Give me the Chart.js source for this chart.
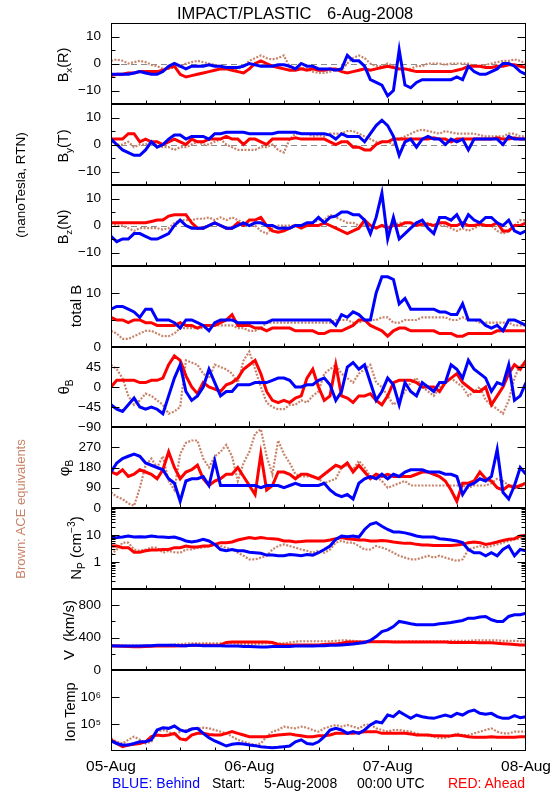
<!DOCTYPE html>
<html><head><meta charset="utf-8">
<script src="https://cdn.jsdelivr.net/npm/chart.js@4.4.1/dist/chart.umd.min.js"></script>
<style>
html,body{margin:0;padding:0;background:#fff;}
#wrap{position:relative;width:550px;height:800px;overflow:hidden;font-family:"Liberation Sans",Arial,sans-serif;color:#000;}
#wrap canvas{position:absolute;left:0;top:0;}
.t{position:absolute;white-space:pre;line-height:1;}
.rot{position:absolute;white-space:pre;line-height:1;transform:translate(-50%,-50%) rotate(-90deg);font-size:14.5px;}
sub,sup{font-size:68%;line-height:0;}
</style></head>
<body><div id="wrap"></div>
<script>
// ---------- DATA (hourly samples, hours after 05-Aug-2008 00:00 UTC) ----------
const hours = Array.from({length:73},(_,i)=>i);
const xTickHours = [0,24,48,72];
const xTickLabels = ['05-Aug','06-Aug','07-Aug','08-Aug'];

const bxBlue=[-4,-4,-4,-4,-3.5,-3,-3.5,-4,-4,-3,-1,0,-1,-2,-1,-1,-1,-0.5,-1,-1,-1.5,-1.5,-1.5,-1,0,-0.5,-1,-1,-1,-0.5,-0.5,-1,-2,0,-1,-1,-2,-2,-2,-2.5,-2,3,1,1,-1,-6,-7,-8,-12,-10,5,-8,-9,-7,-6,-6,-6,-6,-6,-6,-5,-6,-1,-3,-4,-4,-3,-2,0,0,-1,-3,-4];
const bxRed=[-4.5,-4,-4,-3.5,-3.5,-3,-3,-3,-3,-2.5,-1.5,-1,-4,-5,-4.5,-4,-3.5,-3,-2.5,-2,-2,-2.5,-3,-3.5,-2,0,1,0,-1,-1.5,-2,-2.5,-2.5,-2,-2.5,-2,-2.5,-2.5,-2,-2,-3,-3.5,-3,-2.5,-2,-2.5,-2,-1.5,-1,-1.5,-2,-2,-2.5,-3,-3,-3,-3,-3,-3,-3,-2.5,-2,-1,-1,-1,-1.5,-1.5,-1,-1,-0.5,-0.5,-1,-1.5];
const bxBrown=[1,1.5,1,0,0.5,1,0.5,-0.5,-1,-2,-2,-1.5,-1,0,0.5,1,0.5,0,-0.5,-1,-2,-2,-2,-1,1,2,3,2,1.5,2,3,-1.5,-2,-1.5,-2,-3,-3.5,-3.5,-3,-2.5,-2.5,0,2,3,2,0,-1,-1,0,-1,-2,-2,-2,-1,-1,0,0,0,-0.5,0,0,0,0,-1,-1,-0.5,0,0.5,1,1,1.5,1,0];

const byBlue=[2,0,-2,-3,-4,-4,-2,1,-1,0,2,3.5,3.5,2,3,3,3,2,4,4,4.5,4.5,4.5,4.5,4,4,4,4,4,4.5,4.5,4.5,4.5,4,4,4,4,4,3.5,2,4,3,3,3,1,4,7,9,7,3,-4,1,2,-1,2,3,2,2,0,2,1,2,-2,2,2,2,2,2,0,3,2,2,2];
const byRed=[2,2,2,4,4,1,2,1,1,0,1,2,1,0,2,1,1,2,2,2,3,2,2,0,2,2,1,0,2,2,2,2,2.5,2,2,2,2,2,1,0,1,1,-1,-1,-2,-2,0,1,1,2,2,2,2,2,2,2,2.5,2,2,1,2,2,2,2,2,2,2,2.5,2,2,2.5,2,2];
const byBrown=[1,0,0,1,-1,0,0,1,-0.5,-1,-1,-2,-1,-1,0,1,0,0,1,2,0,-1,-2,-2,-2,-2,-1,-1,0,-2,-3,2,4,4,4,3,3.5,3,4,4,4,5,5,4,3,2,1,1,1,0,2,3,4,5,5.5,5,4.5,4,5,4.5,4,4,4,4,3.5,3,3,3,3,4,4,3,3];

const bzBlue=[-4,-6,-5,-5,-3,-3,-4,-5,-5,-4,-3,0,2,0,-1,-1,-1,0,1,0,-1,-1,0,1,0,1,1,0,0,-1,-1,-1,0,0,1,1,3,1,3,3.5,5,5,4,4,2,-3,3,12,-5,3,-5,-3,-1,1,2,-1,-3,3,3,2,4,0,4,2,1,3,3,1,0,2,-2,-3,-2];
const bzRed=[1,1,1,1,1,1,1,1.5,2,2,3.5,4,4,4,1,-1,-1,0,1,0,-1,-1,1,0,2,2,3,0,-2,-2.5,-2,-1,0,-1,0,0,0,1,0,-1,-2,-3,-2,-1,2,0,-1,0,-1,0,0,1,1,0,0.5,0.5,0,1,1,0,0,1,0,0,0.5,0,0,1,-2,-2,0,0,1];
const bzBrown=[1,0,0,-1,-2,-1,-1,-1,-1,-1.5,-1,1,2,2,2,2.5,2.5,3,2,3,2,3,2,1,0,0,-2,-3,-1,0,0,0,0,0,0,1,2,2,4,3,2,1,1,0,0,0,-1,0,0,0,1,1,1,0,0,1,0,0,0,-1,-2,-1,-2,-1,0,0,0,-2,-3,-2,0,2,2];

const btBlue=[7,7.5,7.5,7,6.5,5.5,7,7,5,5,5,4.5,3.5,5,5,4.5,4,3,4.5,5,5,5,4.5,4.5,4.5,4.5,4.5,4.5,5,5,5,5,5,5,5,5,5,5,5,4,6,5.5,6.5,6,5,5,10,13,13,12.5,8,9,7,7,7,7,7,6.5,6.5,6,6,8,5,5,5,4,3.5,4,3,5,5,4.5,4];
const btRed=[5.5,5,5,4.5,5,5,4.5,4.5,4,4,4,4,4.5,4,4,3.5,4,4,4,4.5,5,6,4,4,4,3.5,3.5,3,3.5,3.5,3.5,3.5,3,3,3,3,2.5,2.5,3,3,3,3.5,4,5,5,4,3.5,3,2,3,3.5,3.5,3,3,3,3,3,2.5,2.5,2.5,2,2,2.5,2.5,2.5,2.5,2.5,3,3,3,3,3,3];
const btBrown=[3,2.5,1.5,1.5,2,2.5,3,3,2.5,2,2,2.5,3.5,3.5,3.5,3.5,3.5,4,4,4,4,4,3.5,3.5,3,3,3.5,4.5,4.5,4.5,4.5,4.5,4.5,4.5,4.5,4.5,4.5,4.5,4.5,5,5,5,4.5,4.5,5,5,5,5.5,5.5,4.5,4.5,5,5,5,5.5,5.5,5.5,5.5,5.5,5,5,5.5,5,5,4.5,4.5,4.5,4.5,4.5,4.5,4,4,4];

const thBlue=[-40,-50,-55,-40,-25,-45,-50,-45,-50,-60,-20,20,50,-10,-30,-20,0,40,10,-20,-10,-10,5,5,5,10,10,10,15,20,20,15,0,0,5,5,15,20,5,-30,-10,45,55,40,50,10,-30,-10,20,5,-40,10,-10,-20,10,0,-10,10,10,50,40,20,60,40,30,20,-10,10,5,50,-30,-20,10];
const thRed=[0,15,15,15,15,10,10,15,15,20,50,70,60,25,0,-15,10,0,-5,-10,5,10,20,40,50,60,30,-10,-30,-35,-30,-35,-25,-20,20,40,0,-30,-20,50,-20,-25,-35,-20,-20,-15,-30,-40,-20,10,15,15,15,10,0,0,0,-10,10,20,30,10,0,-10,-10,0,-40,-20,0,30,50,40,60];
const thBrown=[50,40,20,-20,-40,-30,-15,-20,-30,-40,-60,-55,-45,60,55,50,30,20,50,45,40,30,10,60,80,40,0,-35,-45,-50,-50,-40,-40,-30,-35,-20,-10,30,40,50,30,20,10,30,40,50,10,0,-20,-40,-30,-10,10,20,0,-10,-20,0,10,20,10,0,-20,-10,0,-30,-40,-50,-60,-30,20,50,45];

const phBlue=[160,200,220,230,240,230,200,190,180,170,130,110,30,120,130,130,140,100,210,100,100,100,100,100,100,100,90,100,100,100,90,100,110,100,100,100,100,110,80,60,50,60,40,110,130,140,130,150,130,150,140,160,170,170,170,160,160,160,150,150,140,60,100,110,130,120,140,260,70,40,100,180,150];
const phRed=[160,150,170,140,150,170,160,150,130,170,250,180,130,160,170,190,130,100,120,130,150,150,180,140,100,60,240,80,100,160,160,150,130,150,150,140,130,150,170,190,180,200,160,190,160,130,150,140,150,140,140,140,140,150,160,160,150,140,120,80,30,110,110,120,160,130,120,90,80,100,90,100,110];
const phBrown=[70,50,40,20,10,90,190,220,180,230,120,80,240,290,300,300,220,180,230,250,280,230,120,200,250,330,350,230,150,300,240,200,150,140,140,140,130,110,120,130,180,190,170,210,180,140,140,120,90,100,110,120,100,100,100,100,100,100,100,100,100,100,90,100,100,100,110,130,120,100,100,90,120];

const npBlue=[7.3,8.0,8.4,9.2,8.4,8.7,8.4,9.2,8.7,8.4,8.0,8.4,7.3,6.0,5.5,6.0,6.9,6.0,4.5,2.9,2.6,2.9,2.6,2.6,2.3,2.2,2.1,1.8,1.8,1.7,1.7,1.9,1.8,1.7,1.9,1.8,2.2,2.9,3.9,6.9,9.2,8.7,9.2,8.4,16,25,29,21,16,13,13,12,10.6,9.2,8.4,8.4,8.4,7.3,6.9,6.5,6.0,5.2,2.9,2.2,2.2,1.7,2.2,1.7,2.9,3.9,1.7,2.9,2.6];
const npRed=[3.9,3.9,3.4,3.4,2.3,2.3,2.6,2.8,2.8,2.9,2.9,3.4,3.4,3.9,3.6,3.6,3.9,3.9,4.5,5.2,5.2,5.5,6.5,7.3,8.0,7.5,8.0,7.5,7.3,6.9,6.0,6.0,5.5,5.7,6.0,6.0,6.0,6.0,6.5,7.3,8.0,7.3,6.9,6.5,6.5,6.0,6.0,6.3,6.0,5.5,5.2,4.9,4.9,4.5,4.3,4.3,4.1,4.1,4.1,4.1,4.3,4.5,5.2,5.5,5.2,4.5,4.9,5.5,6.3,6.9,7.3,9.2,9.7];
const npBrown=[1.9,2.9,5.2,5.2,2.9,2.6,2.9,3.4,3.4,2.2,2.6,2.3,2.2,2.9,2.9,3.4,3.4,3.9,4.5,3.9,3.4,2.9,2.2,1.7,1.25,1.25,1.45,1.7,2.9,3.9,4.5,3.9,3.4,2.9,2.6,2.2,2.6,2.2,2.9,5.2,6.0,5.2,5.2,3.9,2.9,2.9,3.9,3.4,2.9,2.2,1.7,1.45,1.25,1.25,1.45,1.7,1.45,1.7,1.45,1.25,1.1,1.25,2.9,3.4,3.9,3.4,3.9,4.5,5.2,6.0,6.9,7.3,8.0];

const vBlue=[300,295,295,295,295,295,300,300,305,305,305,305,300,300,305,305,300,300,300,300,295,295,295,290,290,288,285,285,290,290,290,290,295,295,295,295,300,300,305,305,310,315,320,330,340,364,413,475,496,537,600,587,570,558,558,558,558,570,578,587,600,612,640,640,653,661,620,600,600,661,682,682,702];
const vRed=[295,295,292,290,288,288,290,292,295,295,295,295,298,300,305,305,305,305,305,310,340,345,345,345,345,345,345,345,340,315,310,310,310,310,310,310,310,315,320,320,330,345,345,345,345,350,350,350,350,345,345,345,345,345,345,345,345,345,345,340,340,340,340,340,335,335,335,330,325,320,315,310,310];
const vBrown=[300,300,300,300,300,300,300,305,305,305,310,315,320,325,330,330,330,330,330,330,330,330,325,320,320,320,325,330,330,330,330,340,350,355,355,355,355,355,355,360,365,365,360,355,355,350,350,350,350,350,350,350,355,355,355,355,355,355,355,360,360,360,360,365,365,365,365,365,360,360,360,355,350];

const tBlue=[2.35e4,1.9e4,1.67e4,1.67e4,1.9e4,2.2e4,2.2e4,2.6e4,6.0e4,7.3e4,6.9e4,8.4e4,6.0e4,5.2e4,6.5e4,6.9e4,4.5e4,3.1e4,2.35e4,1.9e4,1.53e4,1.77e4,1.9e4,1.8e4,1.67e4,1.58e4,1.45e4,1.37e4,1.33e4,1.37e4,1.45e4,1.53e4,2.2e4,2.6e4,1.9e4,1.77e4,2.2e4,3.4e4,6.0e4,6.9e4,6.0e4,4.5e4,5.2e4,4.5e4,6.0e4,9.2e4,1.22e5,1.1e5,2.15e5,1.87e5,2.86e5,2.15e5,1.62e5,2.15e5,1.87e5,1.72e5,1.62e5,1.87e5,2.15e5,1.87e5,2.48e5,2.15e5,2.86e5,3.3e5,2.48e5,2.28e5,2.48e5,1.87e5,1.62e5,1.62e5,2.04e5,1.72e5,1.87e5];
const tRed=[2.6e4,1.9e4,1.45e4,1.67e4,1.77e4,1.9e4,2.2e4,3.4e4,3.9e4,3.7e4,3.9e4,4.5e4,2.8e4,2.6e4,3.9e4,4.5e4,4.5e4,4.1e4,3.9e4,3.9e4,4.5e4,5.2e4,4.5e4,3.9e4,3.4e4,3.4e4,3.4e4,3.4e4,3.7e4,3.9e4,4.1e4,4.3e4,3.9e4,3.7e4,3.4e4,3.4e4,3.7e4,3.7e4,3.9e4,4.5e4,4.5e4,4.5e4,4.5e4,4.8e4,5.2e4,5.2e4,5.2e4,4.5e4,4.5e4,4.5e4,4.5e4,4.5e4,4.3e4,3.9e4,3.9e4,3.9e4,3.7e4,3.7e4,3.6e4,3.7e4,3.9e4,3.7e4,3.4e4,3.2e4,3.2e4,3.2e4,3.4e4,3.2e4,3.2e4,3.2e4,3.2e4,3.4e4,3.4e4];
const tBrown=[2.95e4,2.2e4,1.9e4,2.6e4,3.4e4,2.6e4,1.9e4,2.2e4,5.2e4,6.0e4,5.2e4,3.9e4,5.2e4,6.0e4,6.9e4,6.9e4,7.3e4,6.9e4,6.0e4,5.2e4,4.5e4,3.4e4,2.6e4,2.2e4,1.9e4,1.67e4,1.9e4,3.4e4,5.2e4,6.0e4,8.0e4,7.3e4,6.9e4,8.0e4,7.3e4,6.0e4,5.2e4,6.9e4,8.0e4,9.2e4,8.0e4,9.2e4,8.0e4,6.9e4,9.2e4,9.7e4,6.9e4,6.0e4,5.2e4,6.0e4,6.0e4,5.5e4,5.2e4,4.5e4,3.9e4,3.7e4,3.4e4,2.95e4,3.1e4,3.4e4,4.5e4,3.9e4,3.9e4,4.5e4,5.2e4,6.0e4,6.9e4,5.2e4,4.5e4,4.5e4,5.2e4,5.2e4,5.2e4];

// ---------- LAYOUT / STYLE ----------
const FONT = '"Liberation Sans", Arial, sans-serif';
const BLUE='#0000ff', RED='#ff0000', BROWN='#c8836a';
const panelEdges=[23,104,185,266,347,427,508,589,670,751];
const plotLeft=111, plotRight=526;
const minus = v => (v<0 ? '\u2212'+(-v) : String(v));
const logMinor = (decs)=>decs.flatMap(d=>[2,3,4,5,6,7,8,9].map(k=>k*d));

const panels=[
 {s:[bxBlue,bxRed,bxBrown],type:'linear',min:-15,max:15,labels:[-10,0,10],major:[-10,0,10],minor:[-5,5],zero:true,fmt:minus},
 {s:[byBlue,byRed,byBrown],type:'linear',min:-15,max:15,labels:[-10,0,10],major:[-10,0,10],minor:[-5,5],zero:true,fmt:minus},
 {s:[bzBlue,bzRed,bzBrown],type:'linear',min:-15,max:15,labels:[-10,0,10],major:[-10,0,10],minor:[-5,5],zero:true,fmt:minus},
 {s:[btBlue,btRed,btBrown],type:'linear',min:0,max:15,labels:[0,10],major:[10],minor:[5],zero:false,fmt:minus},
 {s:[thBlue,thRed,thBrown],type:'linear',min:-90,max:90,labels:[-90,-45,0,45],major:[-45,0,45],minor:[],zero:false,fmt:minus},
 {s:[phBlue,phRed,phBrown],type:'linear',min:0,max:360,labels:[0,90,180,270],major:[90,180,270],minor:[],zero:false,fmt:minus},
 {s:[npBlue,npRed,npBrown],type:'logarithmic',min:0.1,max:100,labels:[1,10],major:[1,10],minor:logMinor([0.1,1,10]),zero:false,fmt:v=>String(v)},
 {s:[vBlue,vRed,vBrown],type:'linear',min:0,max:1000,labels:[0,400,800],major:[400,800],minor:[200,600],zero:false,fmt:minus},
 {s:[tBlue,tRed,tBrown],type:'logarithmic',min:1e4,max:1e7,labels:[1e5,1e6],major:[1e5,1e6],minor:[],zero:false,fmt:v=>(v===1e5?'10\u2075':'10\u2076')}
];

const framePlugin={
  id:'frame',
  beforeDatasetsDraw(chart,args,o){
    if(!o.zero) return;
    const {ctx,chartArea:a,scales:{y}}=chart;
    const py=Math.round(y.getPixelForValue(0))+0.5;
    ctx.save(); ctx.strokeStyle='#8c8c8c'; ctx.lineWidth=1; ctx.setLineDash([6,4]);
    ctx.beginPath(); ctx.moveTo(a.left,py); ctx.lineTo(a.right,py); ctx.stroke(); ctx.restore();
  },
  afterDatasetsDraw(chart,args,o){
    const {ctx,chartArea:a,scales:{x,y}}=chart;
    ctx.save(); ctx.strokeStyle='#000'; ctx.lineWidth=1; ctx.beginPath();
    const L=Math.round(a.left)+0.5, R=Math.round(a.right)-0.5, T=Math.round(a.top)+0.5, B=Math.round(a.bottom)-0.5;
    const yt=(v,len)=>{const py=Math.round(y.getPixelForValue(v))+0.5; ctx.moveTo(L,py); ctx.lineTo(L+len,py); ctx.moveTo(R,py); ctx.lineTo(R-len,py);};
    o.major.forEach(v=>yt(v,8)); o.minor.forEach(v=>yt(v,4));
    for(let h=6;h<72;h+=6){const px=Math.round(x.getPixelForValue(h))+0.5; const len=(h%24===0)?5:3; ctx.moveTo(px,B); ctx.lineTo(px,B-len);}
    ctx.stroke();
    ctx.strokeRect(L,T,R-L,B-T);
    ctx.restore();
  }
};

const wrap=document.getElementById('wrap');
const ds=(arr,color,w,dash)=>({data:hours.map((h,j)=>({x:h,y:arr[j]})),borderColor:color,borderWidth:w,borderDash:dash||[],pointRadius:0,fill:false,tension:0});

panels.forEach((p,i)=>{
  const cv=document.createElement('canvas'); cv.width=550; cv.height=800;
  cv.style.width='550px'; cv.style.height='800px'; wrap.appendChild(cv);
  const top=panelEdges[i], bottom=panelEdges[i+1], last=(i===panels.length-1);
  const yW=50, xH=last?40:0;
  new Chart(cv,{type:'line',
    data:{datasets:[ds(p.s[0],BLUE,3),ds(p.s[1],RED,3),ds(p.s[2],BROWN,2.2,[2,1.5])]},
    options:{responsive:false,animation:false,events:[],
      layout:{padding:{left:plotLeft-yW,right:550-plotRight,top:top,bottom:800-bottom-xH}},
      plugins:{legend:{display:false},tooltip:{enabled:false},frame:{zero:p.zero,major:p.major,minor:p.minor}},
      scales:{
        x:{type:'linear',min:0,max:72,display:last,grid:{display:false,drawTicks:false},border:{display:false},
          afterBuildTicks:s=>{s.ticks=xTickHours.map(v=>({value:v}));},
          ticks:{autoSkip:false,maxRotation:0,color:'#000',font:{family:FONT,size:15.5},padding:6,callback:(v,k)=>xTickLabels[k]},
          afterFit:s=>{s.height=xH;s.paddingLeft=0;s.paddingRight=0;}},
        y:{type:p.type,min:p.min,max:p.max,grid:{display:false,drawTicks:false},border:{display:false},
          afterBuildTicks:s=>{s.ticks=p.labels.map(v=>({value:v}));},
          ticks:{autoSkip:false,color:'#000',font:{family:FONT,size:13.5},padding:10,callback:p.fmt},
          afterFit:s=>{s.width=yW;s.paddingTop=0;s.paddingBottom=0;}}
      }},
    plugins:[framePlugin]});
});

// ---------- TEXT ----------
function txt(html,css){const d=document.createElement('div');d.className='t';d.innerHTML=html;Object.assign(d.style,css);wrap.appendChild(d);}
function rot(html,x,y,css){const d=document.createElement('div');d.className='rot';d.innerHTML=html;d.style.left=x+'px';d.style.top=y+'px';Object.assign(d.style,css||{});wrap.appendChild(d);}
txt('IMPACT/PLASTIC',{left:'177px',top:'5px',fontSize:'16.5px'});
txt('6-Aug-2008',{left:'327px',top:'5px',fontSize:'16.5px'});
rot('B<sub>x</sub>(R)',63,65);
rot('B<sub>y</sub>(T)',63,146);
rot('B<sub>z</sub>(N)',63,227);
rot('total B',75,306,{fontSize:'15px'});
rot('\u03B8<sub>B</sub>',63,387,{fontSize:'15px'});
rot('\u03C6<sub>B</sub>',63,468,{fontSize:'15px'});
rot('N<sub>P</sub> (cm<sup>\u22123</sup>)',75,548,{fontSize:'15px'});
rot('V  (km/s)',68,630,{fontSize:'15px'});
rot('Ion Temp',70,712);
rot('(nanoTesla, RTN)',21,185,{fontSize:'13.5px'});
rot('Brown: ACE equivalents',20,509,{fontSize:'13px',color:BROWN});
txt('BLUE: Behind',{left:'112px',top:'776px',fontSize:'14px',color:BLUE});
txt('Start:',{left:'212px',top:'776px',fontSize:'14px'});
txt('5-Aug-2008',{left:'264px',top:'776px',fontSize:'14px'});
txt('00:00 UTC',{left:'357px',top:'776px',fontSize:'14px'});
txt('RED: Ahead',{right:'25px',top:'776px',fontSize:'14px',color:RED});
</script>
</body></html>
